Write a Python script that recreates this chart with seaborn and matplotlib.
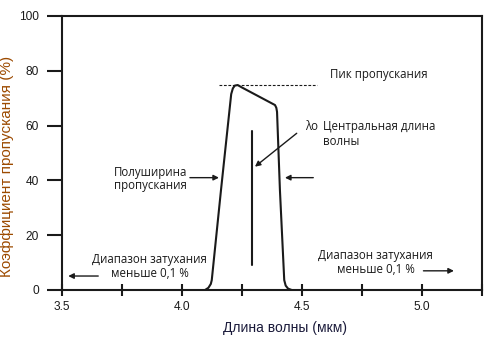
import numpy as np
import matplotlib
matplotlib.use("Agg")
import matplotlib.pyplot as plt
import pandas as pd
import seaborn as sns

# ---- data ----
wavelength = [4.096, 4.110, 4.120, 4.124, 4.1625, 4.205, 4.212, 4.220, 4.232,
              4.250, 4.3875, 4.393, 4.396, 4.408, 4.426, 4.432, 4.442, 4.457]
transmission = [0.0, 0.8, 2.2, 3.6, 36.5, 71.5, 73.6, 74.6, 74.8,
                73.9, 67.5, 66.5, 65.0, 36.5, 3.6, 1.6, 0.5, 0.0]

peak_level = 74.8
peak_line_x = [4.154, 4.5625]
center_wl = 4.293
center_line_y = [9, 58]

x_major = [3.5, 4.0, 4.5, 5.0]
x_minor = [3.75, 4.25, 4.75, 5.25]
y_major = [0, 20, 40, 60, 80, 100]

df = pd.DataFrame({"wl": wavelength, "T": transmission})

sns.set_theme(style="white")
plt.rcParams["font.family"] = ["Liberation Sans", "DejaVu Sans"]
plt.rcParams["text.color"] = "k"
ann_font = ["Open Sans", "DejaVu Sans"]

fig = plt.figure(figsize=(5.03, 3.54), dpi=100)
ax = fig.add_axes([62/503, 1-290/354, 420/503, 274/354])

sns.lineplot(data=df, x="wl", y="T", color="k", lw=1.5, sort=False, ax=ax)

ax.plot(peak_line_x, [peak_level, peak_level], color="k", lw=0.8, ls=(0, (2.5, 1.5)))
ax.plot([center_wl, center_wl], center_line_y, color="k", lw=1.5)

ax.set_xlim(3.5, 5.25)
ax.set_ylim(0, 100)
ax.set_xticks(x_major)
ax.set_xticklabels(["3.5", "4.0", "4.5", "5.0"])
ax.set_xticks(x_minor, minor=True)
ax.set_yticks(y_major)

for s in ax.spines.values():
    s.set_linewidth(1.5)
    s.set_color("k")

ax.tick_params(axis="x", which="both", direction="inout", length=8, width=1.5,
               pad=4, labelsize=8.6, colors="k", bottom=True)
ax.tick_params(axis="y", which="major", direction="out", length=11, width=1.5,
               pad=5.5, labelsize=8.6, colors="k", left=True)

ax.set_xlabel("Длина волны (мкм)", fontsize=10, color="#1a1a3a")
ax.xaxis.set_label_coords(0.531, -0.112)
ax.set_ylabel("Коэффициент пропускания (%)", fontsize=11, color="#9c4a00")
ax.yaxis.set_label_coords(-0.114, 0.45)

arrow = dict(arrowstyle="-|>", lw=1, color="k", mutation_scale=8, shrinkA=0, shrinkB=0)
txt = dict(fontsize=8.3, family=ann_font, color="k", linespacing=1.05)

# annotations
ax.text(4.617, 78.8, "Пик пропускания", va="center", ha="left", **txt)
ax.text(4.5125, 59.6, "λo", va="center", ha="left", **txt)
ax.text(4.589, 59.6, "Центральная длина", va="center", ha="left", **txt)
ax.text(4.589, 54.1, "волны", va="center", ha="left", **txt)
ax.annotate("", xy=(4.304, 45), xytext=(4.478, 57.2), arrowprops=arrow)

ax.text(3.867, 40.5, "Полуширина\nпропускания", va="center", ha="center", **txt)
ax.annotate("", xy=(4.154, 41), xytext=(4.033, 41), arrowprops=arrow)
ax.annotate("", xy=(4.429, 41), xytext=(4.547, 41), arrowprops=arrow)

ax.text(3.865, 8.5, "Диапазон затухания\nменьше 0,1 %", va="center", ha="center", **txt)
ax.annotate("", xy=(3.526, 5.1), xytext=(3.651, 5.1), arrowprops=arrow)

ax.text(4.807, 10, "Диапазон затухания\nменьше 0,1 %", va="center", ha="center", **txt)
ax.annotate("", xy=(5.133, 7), xytext=(5.006, 7), arrowprops=arrow)

fig.savefig("out.png", dpi=100)
